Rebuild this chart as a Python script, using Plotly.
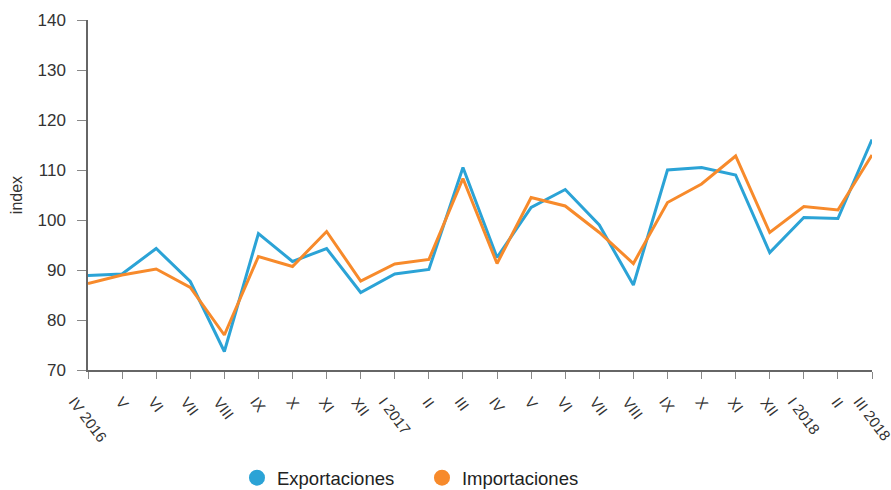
import plotly.graph_objects as go

categories = ["IV 2016", "V", "VI", "VII", "VIII", "IX", "X", "XI", "XII", "I 2017",
              "II", "III", "IV ", "V ", "VI ", "VII ", "VIII ", "IX ", "X ", "XI ", "XII ",
              "I 2018", "II ", "III 2018"]
exportaciones = [88.9, 89.2, 94.3, 87.7, 73.7, 97.3, 91.7, 94.3, 85.5, 89.2,
                 90.1, 110.5, 92.5, 102.5, 106.1, 99.0, 87.0, 110.0, 110.5, 109.0,
                 93.5, 100.5, 100.3, 116.1]
importaciones = [87.3, 89.0, 90.2, 86.5, 77.0, 92.7, 90.7, 97.7, 87.8, 91.2,
                 92.1, 108.3, 91.3, 104.5, 102.8, 97.5, 91.3, 103.5, 107.2, 112.8,
                 97.5, 102.7, 102.0, 113.0]
names = ["Exportaciones", "Importaciones"]
colors = ["#2ba3d6", "#f78a2b"]

fig = go.Figure()
for name, vals, col in zip(names, [exportaciones, importaciones], colors):
    fig.add_trace(go.Scatter(x=categories, y=vals, mode="lines", name=name,
                             line=dict(color=col, width=3), showlegend=False))
for name, col in zip(names, colors):
    fig.add_trace(go.Scatter(x=[None], y=[None], mode="markers", name=name,
                             marker=dict(color=col, size=16, symbol="circle")))

# category labels, centred under each tick and rotated
for cat in categories:
    fig.add_annotation(x=cat, xref="x", y=0, yref="paper", yshift=-21,
                       text=cat.strip(), showarrow=False, textangle=53,
                       xanchor="center", yanchor="top",
                       font=dict(size=15, color="#333333"))

fig.update_layout(
    width=891, height=490,
    margin=dict(l=88, r=19, t=20, b=120, autoexpand=False),
    paper_bgcolor="white", plot_bgcolor="white",
    font=dict(family="Liberation Sans, Arial, sans-serif", color="#333333", size=14),
    legend=dict(orientation="h", x=0.426, xanchor="center", y=-0.309, yanchor="middle",
                font=dict(size=18.5, color="#222222"), itemwidth=30, tracegroupgap=0,
                entrywidth=140, entrywidthmode="pixels"),
    xaxis=dict(type="category", showline=True, linecolor="#666666", linewidth=1.5,
               ticks="outside", ticklen=7, tickcolor="#888888", showticklabels=False,
               automargin=False, showgrid=False, range=[0, 23]),
    yaxis=dict(range=[70, 140], dtick=10, showline=True, linecolor="#666666", linewidth=1.5,
               ticks="outside", ticklen=9, tickcolor="#888888", showgrid=False, zeroline=False,
               automargin=False, tickfont=dict(size=17, color="#333333"), ticklabelstandoff=8,
               title=dict(text="index", font=dict(size=16, color="#333333"), standoff=11)),
)
fig.write_html("out.html", config={"displayModeBar": False},
               post_script="document.body.style.margin='0';document.body.style.overflow='hidden';")
